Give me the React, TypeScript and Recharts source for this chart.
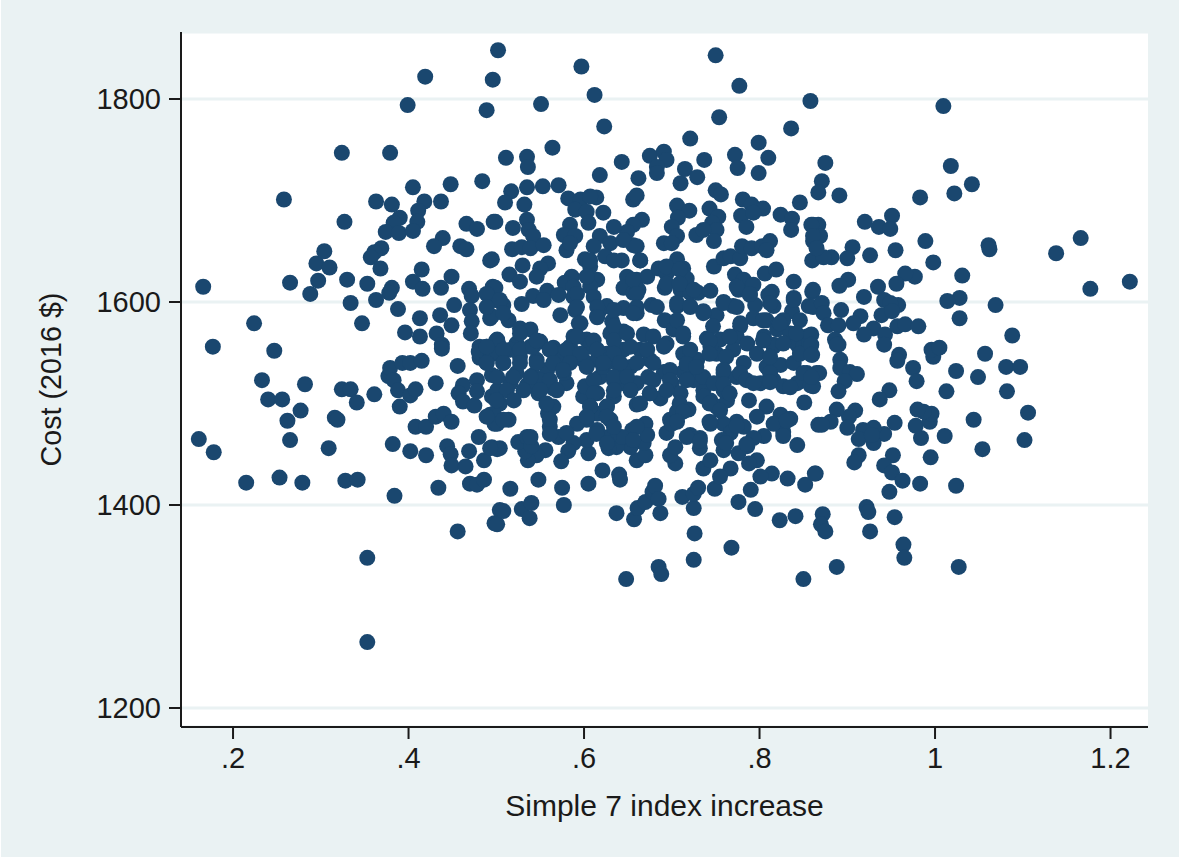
import React from "react";
import {
  CartesianGrid,
  Scatter,
  ScatterChart,
  XAxis,
  YAxis,
} from "recharts";

const xTicks = [0.2, 0.4, 0.6, 0.8, 1, 1.2];
const yTicks = [1200, 1400, 1600, 1800];

// [simple 7 index increase, cost]
const upperLeft = [
  [.166,1615],[.258,1701],[.324,1747],[.379,1747],[.399,1794],[.419,1822],[.489,1789],[.496,1819],[.502,1848],
  [.327,1679],[.265,1619],[.288,1608],[.297,1621],[.295,1638],[.304,1650],[.310,1634],[.330,1622],[.353,1618],
  [.363,1699],[.381,1696],[.405,1713],[.418,1699],[.437,1699],[.448,1716],[.484,1719],[.390,1683],[.411,1690],
  [.410,1679],[.383,1678],[.374,1669],[.389,1668],[.405,1670],[.466,1677],[.478,1672],[.497,1679],[.439,1663],
  [.429,1655],[.459,1655],[.466,1652],[.493,1641],[.369,1653],[.361,1649],[.357,1644],[.368,1633],[.415,1632],
  [.405,1620],[.416,1613],[.449,1625],[.437,1614],[.381,1614],[.378,1609],[.363,1602],[.334,1599],[.388,1593],
  [.347,1579],[.224,1579],[.413,1584],[.436,1587],[.449,1577],[.396,1570],[.413,1566],[.432,1569],[.438,1558],
  [.469,1613],[.472,1606],[.452,1597],[.496,1615],[.493,1604],[.470,1592],[.472,1581],[.471,1569],[.493,1584],
  [.481,1556],[.500,1562],[.177,1556],[.247,1552],
];

const lowerLeft = [
  [.233,1523],[.282,1519],[.240,1504],[.256,1504],[.277,1493],[.262,1483],[.265,1464],[.161,1465],[.178,1452],
  [.215,1422],[.253,1427],[.279,1422],[.328,1424],[.342,1425],[.384,1409],[.353,1348],[.353,1265],[.309,1456],
  [.316,1486],[.319,1484],[.324,1514],[.334,1514],[.341,1501],[.361,1509],[.382,1460],[.402,1453],[.420,1449],
  [.434,1417],[.456,1374],[.390,1497],[.377,1527],[.379,1535],[.383,1523],[.388,1513],[.402,1508],[.408,1514],
  [.393,1540],[.402,1540],[.415,1542],[.438,1554],[.456,1537],[.431,1520],[.408,1477],[.420,1477],[.431,1487],
  [.440,1490],[.449,1482],[.444,1458],[.448,1450],[.449,1439],[.465,1438],[.469,1453],[.480,1467],[.486,1444],
  [.470,1421],[.478,1420],[.486,1425],[.495,1457],[.504,1456],[.462,1518],[.478,1523],[.457,1510],[.462,1502],
  [.475,1498],[.478,1512],[.481,1545],[.480,1551],[.489,1540],[.495,1528],[.495,1507],[.493,1489],[.498,1480],
  [.504,1500],[.498,1382],[.504,1395],[.489,1556],[.502,1550],[.502,1559],
];

const upperMiddle = [
  [.597,1832],[.612,1804],[.551,1795],[.623,1773],[.750,1843],[.777,1813],[.754,1782],[.858,1798],[.836,1771],
  [.799,1757],[.721,1761],[.564,1752],[.511,1742],[.535,1743],[.536,1733],[.643,1738],[.675,1744],[.691,1748],
  [.694,1740],[.683,1733],[.683,1727],[.715,1731],[.737,1740],[.729,1723],[.710,1717],[.662,1722],[.618,1725],
  [.772,1745],[.775,1732],[.810,1742],[.799,1727],[.846,1698],[.750,1710],
  [.756,1706],[.781,1701],[.791,1696],[.804,1692],[.779,1685],[.793,1688],[.785,1674],[.824,1686],[.837,1682],
  [.836,1671],[.861,1676],[.861,1660],[.860,1641],[.743,1692],[.753,1684],[.746,1678],[.751,1671],[.728,1666],
  [.736,1671],[.748,1660],[.706,1695],[.720,1690],[.707,1683],[.700,1674],[.706,1665],[.691,1658],[.700,1658],
  [.656,1701],[.660,1705],[.666,1681],[.656,1676],[.649,1669],[.634,1674],[.582,1702],[.596,1701],[.614,1703],
  [.607,1704],[.590,1691],[.603,1689],[.622,1688],[.605,1678],[.584,1676],[.577,1666],[.590,1665],[.580,1651],
  [.584,1658],[.618,1665],[.611,1655],[.630,1658],[.656,1656],[.645,1661],[.660,1655],[.601,1642],[.624,1645],
  [.643,1641],[.664,1641],[.517,1709],[.510,1698],[.535,1713],[.553,1714],[.571,1715],[.532,1696],[.499,1679],
  [.535,1681],[.519,1673],[.537,1671],[.542,1665],[.518,1652],[.529,1654],[.539,1653],[.554,1656],[.495,1642],
  [.530,1636],[.559,1638],[.550,1633],[.546,1625],[.515,1627],[.527,1620],[.586,1625],[.578,1619],[.588,1615],
  [.558,1611],[.542,1606],[.554,1602],[.571,1607],[.529,1598],[.499,1614],[.508,1597],[.499,1602],[.495,1586],
  [.514,1582],[.573,1587],[.527,1574],[.539,1573],[.501,1563],[.523,1559],[.550,1561],[.565,1555],[.588,1605],
  [.590,1592],[.594,1579],[.588,1566],[.603,1563],[.607,1635],[.615,1622],[.607,1615],[.611,1605],[.618,1592],
  [.626,1596],[.615,1586],[.632,1581],[.630,1569],[.645,1571],[.645,1594],[.660,1589],[.677,1597],[.668,1568],
  [.679,1566],[.692,1582],[.702,1573],[.713,1566],[.694,1559],[.649,1625],[.645,1614],[.660,1622],[.656,1609],
  [.662,1612],[.672,1625],[.685,1633],[.694,1628],[.706,1642],[.713,1633],[.717,1623],[.692,1614],[.710,1612],
  [.721,1609],[.730,1609],[.744,1611],[.706,1596],[.721,1596],[.736,1591],[.751,1587],[.759,1600],[.770,1596],
  [.748,1635],[.759,1643],[.767,1645],[.778,1643],[.780,1655],[.791,1653],[.803,1655],[.812,1660],[.808,1651],
  [.772,1627],[.782,1622],[.793,1617],[.776,1612],[.789,1607],[.795,1597],[.806,1628],[.819,1632],[.839,1620],
  [.814,1610],[.810,1607],[.839,1604],[.816,1596],[.837,1591],[.860,1610],[.856,1596],[.808,1582],[.778,1576],
  [.793,1584],[.827,1582],[.846,1582],[.774,1566],[.805,1566],[.820,1573],[.835,1569],[.854,1566],[.740,1564],
  [.755,1563],[.786,1559],[.816,1558],[.843,1558],[.858,1556],
];

const lowerMiddle = [
  [.501,1381],[.508,1394],[.529,1396],[.540,1402],[.538,1387],[.577,1400],[.575,1417],[.548,1425],[.516,1416],
  [.605,1421],[.621,1434],[.640,1430],[.641,1425],[.637,1392],[.657,1386],[.661,1397],[.670,1403],[.678,1413],
  [.681,1419],[.685,1406],[.687,1392],[.648,1327],[.685,1339],[.688,1332],[.725,1346],[.726,1372],[.725,1397],
  [.712,1408],[.725,1411],[.730,1417],[.768,1358],[.776,1403],[.795,1396],[.790,1415],[.749,1416],[.832,1426],
  [.852,1420],[.864,1431],[.823,1385],[.841,1389],[.850,1327],[.843,1459],[.805,1468],[.827,1472],[.788,1503],
  [.851,1501],[.867,1479],[.808,1497],[.797,1487],[.824,1489],[.835,1485],[.816,1480],[.774,1482],[.759,1480],
  [.744,1480],[.782,1477],[.814,1431],[.801,1428],[.797,1444],[.786,1458],[.767,1436],[.755,1428],[.736,1436],
  [.759,1454],[.776,1451],[.788,1441],[.767,1471],[.757,1464],[.732,1456],[.732,1466],[.721,1469],[.744,1444],
  [.704,1441],[.698,1449],[.704,1457],[.694,1471],[.698,1484],[.719,1494],[.706,1492],[.700,1480],[.660,1444],
  [.670,1449],[.668,1461],[.670,1480],[.672,1469],[.655,1474],[.653,1457],[.637,1457],[.643,1467],[.628,1467],
  [.628,1456],[.605,1451],[.615,1474],[.603,1464],[.588,1461],[.582,1453],[.574,1443],[.571,1467],[.559,1490],
  [.561,1477],[.565,1497],[.556,1454],[.546,1449],[.536,1444],[.533,1453],[.525,1462],[.535,1467],[.540,1458],
  [.501,1455],[.493,1456],[.514,1484],[.501,1480],[.497,1490],[.615,1490],[.603,1484],[.592,1480],[.580,1471],
  [.630,1484],[.626,1497],[.607,1497],[.599,1507],[.601,1517],[.615,1510],[.634,1507],[.660,1499],[.687,1505],
  [.675,1510],[.700,1520],[.710,1510],[.744,1503],[.751,1497],[.763,1503],[.759,1513],[.736,1513],[.725,1523],
  [.713,1531],[.691,1531],[.675,1543],[.660,1520],[.645,1520],[.634,1523],[.653,1536],[.637,1540],[.618,1526],
  [.615,1543],[.599,1543],[.580,1520],[.565,1515],[.548,1510],[.535,1518],[.516,1520],[.501,1513],[.501,1526],
  [.523,1530],[.542,1528],[.558,1533],[.577,1530],[.592,1546],[.573,1543],[.546,1543],[.527,1546],[.508,1540],
  [.497,1549],[.516,1553],[.539,1556],[.561,1553],[.584,1556],[.607,1556],[.626,1549],[.645,1553],[.664,1553],
  [.691,1556],[.713,1549],[.729,1543],[.751,1549],[.759,1530],[.774,1526],[.782,1540],[.801,1520],[.816,1523],
  [.827,1517],[.843,1520],[.858,1518],[.808,1536],[.824,1538],[.839,1540],[.860,1548],[.854,1530],[.797,1549],
  [.816,1556],[.850,1556],[.736,1526],[.748,1520],[.744,1556],[.770,1553],[.673,1526],[.622,1536],[.550,1523],
  [.645,1533],
];

// the crowded centre, left half then right half
const coreLeft = [
  [.607,1641],[.634,1641],[.664,1641],[.694,1635],[.603,1625],[.656,1622],[.694,1618],[.592,1608],[.660,1608],
  [.592,1595],[.615,1595],[.634,1592],[.660,1595],[.683,1595],[.596,1579],[.615,1585],[.634,1576],[.656,1589],
  [.592,1566],[.611,1562],[.634,1562],[.649,1569],[.489,1556],[.508,1553],[.527,1553],[.542,1556],[.561,1553],
  [.580,1553],[.596,1549],[.615,1553],[.634,1549],[.653,1556],[.672,1553],[.489,1540],[.508,1540],[.527,1540],
  [.546,1540],[.565,1540],[.584,1540],[.603,1536],[.622,1540],[.641,1540],[.660,1540],[.679,1540],[.698,1533],
  [.519,1526],[.539,1526],[.561,1523],[.576,1533],[.611,1523],[.634,1526],[.649,1526],[.679,1523],[.698,1523],
  [.512,1513],[.531,1513],[.550,1513],[.569,1513],[.611,1510],[.634,1513],[.653,1513],[.675,1510],[.694,1513],
  [.500,1503],[.520,1503],[.557,1500],[.607,1497],[.626,1497],[.664,1500],[.489,1487],[.508,1484],[.561,1484],
  [.603,1487],[.626,1487],[.634,1477],[.660,1477],[.561,1470],[.614,1470],[.539,1467],[.626,1461],[.656,1464],
  [.489,1608],[.504,1602],[.489,1595],[.508,1589],[.527,1569],[.546,1562],
];

const coreRight = [
  [.709,1632],[.709,1618],[.725,1612],[.774,1615],[.789,1608],[.706,1599],[.721,1595],[.736,1589],[.759,1599],
  [.774,1595],[.812,1599],[.839,1602],[.861,1595],[.706,1582],[.747,1576],[.778,1579],[.804,1582],[.823,1579],
  [.713,1569],[.743,1562],[.766,1566],[.804,1562],[.827,1559],[.842,1569],[.857,1559],[.721,1553],[.743,1549],
  [.762,1546],[.812,1546],[.846,1549],[.717,1539],[.728,1536],[.759,1533],[.778,1530],[.812,1530],[.850,1530],
  [.865,1530],[.717,1523],[.759,1519],[.785,1523],[.793,1520],[.812,1521],[.835,1516],[.736,1507],[.766,1510],
  [.709,1500],[.743,1500],[.713,1492],[.755,1493],[.706,1482],[.743,1482],[.831,1483],[.774,1478],[.793,1466],
  [.827,1468],[.762,1461],[.785,1460],[.717,1467],[.732,1463],
];

const upperRight = [
  [1.0095,1793],[.875,1737],[1.018,1734],[1.042,1716],[1.022,1707],[.983,1703],[.871,1719],[.867,1708],[.891,1705],
  [.920,1679],[.936,1674],[.951,1685],[.949,1672],[.989,1660],[1.061,1656],[1.062,1652],[1.138,1648],[1.166,1663],
  [.955,1651],[.926,1646],[.906,1654],[.900,1643],[.882,1644],[.873,1644],[.867,1676],[.859,1676],[.869,1665],
  [.861,1665],[.865,1653],[.998,1639],[1.031,1626],[.977,1625],[.966,1628],[.956,1618],[.901,1622],[.891,1616],
  [.935,1615],[.919,1605],[.942,1602],[.958,1597],[.949,1599],[1.028,1604],[1.014,1601],[1.069,1597],[1.028,1584],
  [1.088,1567],[1.177,1613],[1.222,1620],[.861,1612],[.871,1599],[.873,1589],[.893,1592],[.915,1586],[.878,1577],
  [.890,1577],[.907,1579],[.939,1587],[.951,1591],[.930,1574],[.943,1568],[.919,1568],[.957,1576],[.966,1578],
  [.981,1576],[.886,1563],[.890,1558],[.942,1558],[.859,1568],[.859,1558],
];

const lowerRight = [
  [1.057,1549],[.998,1546],[.996,1553],[1.005,1555],[.959,1548],[.957,1542],[.975,1535],[.979,1522],[1.024,1532],
  [1.049,1526],[1.081,1536],[1.097,1536],[1.082,1512],[1.013,1512],[.948,1513],[.937,1504],[1.106,1491],[1.044,1484],
  [1.102,1464],[1.054,1455],[1.011,1468],[.995,1447],[.984,1466],[.978,1478],[.994,1482],[.996,1490],[.987,1492],
  [.980,1494],[.954,1481],[.942,1470],[.930,1476],[.918,1474],[.913,1465],[.930,1461],[.928,1469],[.909,1493],
  [.902,1487],[.900,1476],[.888,1494],[.881,1482],[.871,1479],[.913,1449],[.908,1442],[.952,1449],[.942,1439],
  [.951,1432],[.963,1424],[.983,1421],[1.024,1419],[.948,1413],[.863,1431],[.922,1398],[.924,1393],
  [.954,1388],[.926,1374],[.872,1391],[.870,1381],[.875,1374],[.964,1361],[.965,1348],[.888,1339],[1.027,1339],
  [.859,1548],[.861,1517],[.868,1530],[.859,1526],[.892,1543],[.892,1535],[.903,1531],[.911,1529],
  [.897,1522],[.890,1512],[.888,1558],
];

const points = [
  ...upperLeft,
  ...lowerLeft,
  ...upperMiddle,
  ...lowerMiddle,
  ...coreLeft,
  ...coreRight,
  ...upperRight,
  ...lowerRight,
].map(([index, cost]) => ({ index, cost }));

const INK = "#1a1a1a";
const PANEL = "#eaf2f3";
const NAVY = "#1a476f";
const FONT = "'Liberation Sans', Arial, sans-serif";

const formatX = (value: number) => String(value).replace(/^0\./, ".");

// stata's large solid circle
const Dot = (props: any) => <circle cx={props.cx} cy={props.cy} r={8} fill={NAVY} />;

const App: React.FC = () => {
  return (
    <div
      style={{
        position: "absolute",
        left: 0,
        top: 0,
        width: 1181,
        height: 860,
        background: "#ffffff",
        overflow: "hidden",
      }}
    >
      <div style={{ position: "absolute", left: 1, top: 0, width: 1178, height: 857, background: PANEL }} />
      <div style={{ position: "absolute", left: 0, top: 0 }}>
        <ScatterChart
          width={1181}
          height={860}
          margin={{ top: 32, right: 33, bottom: 73, left: 91 }}
        >
          <CartesianGrid vertical={false} fill="#ffffff" stroke={PANEL} strokeWidth={3} />
          <XAxis
            type="number"
            dataKey="index"
            domain={[0.1407, 1.2427]}
            ticks={xTicks}
            tickFormatter={formatX}
            allowDataOverflow
            height={60}
            interval={0}
            stroke={INK}
            strokeWidth={2}
            tickSize={12}
            tickMargin={8}
            tick={{ fontSize: 29, fontFamily: FONT, fill: INK }}
            label={{
              value: "Simple 7 index increase",
              position: "insideBottom",
              offset: -29,
              style: { fontSize: 30, fontFamily: FONT, fill: INK },
            }}
          />
          <YAxis
            type="number"
            dataKey="cost"
            domain={[1181.3, 1866]}
            ticks={yTicks}
            allowDataOverflow
            width={90}
            interval={0}
            stroke={INK}
            strokeWidth={2}
            tickSize={12}
            tickMargin={8}
            tick={{ fontSize: 29, fontFamily: FONT, fill: INK }}
            label={{
              value: "Cost (2016 $)",
              angle: -90,
              position: "insideLeft",
              offset: -40,
              style: { fontSize: 28.7, fontFamily: FONT, fill: INK, textAnchor: "middle" },
            }}
          />
          <Scatter data={points} fill={NAVY} shape={Dot} isAnimationActive={false} />
        </ScatterChart>
      </div>
    </div>
  );
};

export default App;
